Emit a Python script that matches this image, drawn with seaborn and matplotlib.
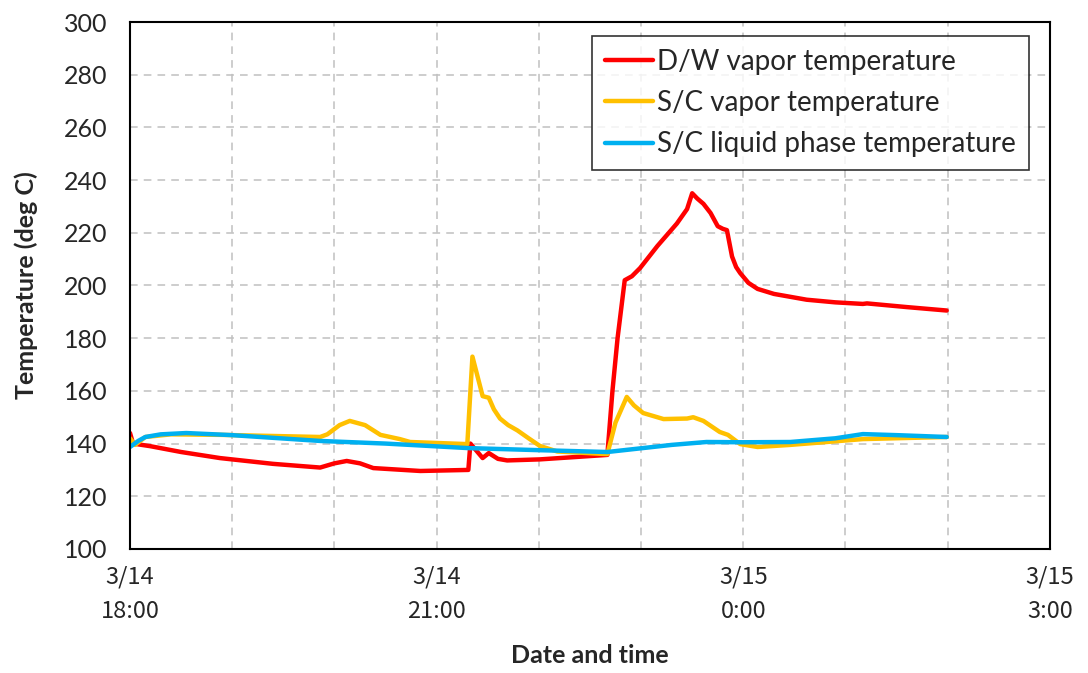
import seaborn as sns
import matplotlib.pyplot as plt
import pandas as pd
import numpy as np

# hours elapsed since 3/14 18:00
dw_hours = [0.0, 0.03, 0.2, 0.5, 0.88, 1.4, 1.86, 2.0, 2.12, 2.25, 2.38, 2.84, 3.31,
            3.33, 3.45, 3.51, 3.6, 3.69, 4.01, 4.67, 4.72, 4.77, 4.84, 4.91, 4.99, 5.16, 5.35,
            5.45, 5.50, 5.55, 5.61, 5.68, 5.75, 5.80, 5.84, 5.89, 5.93, 5.97, 6.05, 6.14,
            6.3, 6.62, 6.9, 7.17, 7.21, 7.6, 7.99]
dw_temp = [144, 140, 139, 136.8, 134.5, 132.3, 130.9, 132.5, 133.4, 132.5, 130.7, 129.6, 130,
           140, 134.5, 136.4, 134.2, 133.6, 134, 135.7, 160, 180, 202, 203.5, 206.6, 215, 223.5,
           229, 235, 233, 231, 227.5, 222.5, 221.5, 221, 211, 207, 204.7, 201, 198.7,
           196.8, 194.6, 193.6, 193, 193.2, 191.8, 190.5]

sc_vap_hours = [0.0, 0.05, 0.15, 0.4, 0.9, 1.86, 1.93, 2.05, 2.15, 2.30, 2.45, 2.64, 2.74, 3.30,
                3.35, 3.45, 3.51, 3.56, 3.62, 3.70, 3.79, 3.90, 4.01, 4.18, 4.67, 4.75, 4.86,
                4.93, 5.02, 5.22, 5.45, 5.51, 5.61, 5.77, 5.85, 5.97, 6.14, 6.46, 7.17, 7.99]
sc_vap_temp = [142, 139.5, 142.5, 143.5, 143.3, 142.5, 143.5, 147, 148.6, 147, 143.3, 141.7, 140.6,
               139.8, 173, 158, 157.4, 153, 149.5, 147, 145, 142, 139.1, 137, 136, 148, 157.7,
               154.5, 151.6, 149.3, 149.5, 150, 148.6, 144.4, 143.3, 139.8, 138.7, 139.5, 141.7,
               142.5]

sc_liq_hours = [0.0, 0.08, 0.15, 0.3, 0.55, 1.0, 1.86, 2.5, 3.30, 4.0, 4.67, 5.02, 5.3,
                5.64, 6.0, 6.46, 6.9, 7.17, 7.5, 7.99]
sc_liq_temp = [138.7, 141, 142.5, 143.5, 144, 143.2, 141, 140, 138.3, 137.5, 136.8, 138.3,
               139.5, 140.6, 140.5, 140.6, 142, 143.6, 143.2, 142.5]

tick_hours = [0, 3, 6, 9]
tick_labels = ["3/14\n18:00", "3/14\n21:00", "3/15\n0:00", "3/15\n3:00"]

series = [("D/W vapor temperature", dw_hours, dw_temp, "#ff0000"),
          ("S/C vapor temperature", sc_vap_hours, sc_vap_temp, "#ffc000"),
          ("S/C liquid phase temperature", sc_liq_hours, sc_liq_temp, "#00b0f0")]

sns.set_style("white")
plt.rcParams['font.family'] = ['Lato', 'DejaVu Sans']

fig = plt.figure(figsize=(10.88, 6.73), dpi=100)
ax = fig.add_axes([0.1195, 0.1843, 0.8455, 0.7830])

for name, hrs, temps, col in series:
    df = pd.DataFrame({"hours": hrs, "temp": temps})
    sns.lineplot(data=df, x="hours", y="temp", ax=ax, color=col, lw=3.2,
                 label=name, sort=False)

ax.set_xlim(0, 9)
ax.set_ylim(100, 300)
ax.set_yticks(np.arange(100, 301, 20))
ax.set_xticks(np.arange(0, 10, 1), minor=True)
ax.set_xticks(tick_hours)
ax.set_xticklabels(tick_labels, family=['Noto Sans CJK JP', 'DejaVu Sans'], fontsize=17,
                   linespacing=1.65)
ax.tick_params(axis='y', labelsize=18, direction='in', length=5, width=1.2, color='#555555',
               pad=16)
ax.tick_params(axis='x', which='both', direction='in', length=5, width=1.5, pad=12)
ax.grid(True, which='both', color='#c0c0c0', linestyle=(0, (5, 4)), lw=1.1)
for s in ax.spines.values():
    s.set_color('black')
    s.set_linewidth(1.5)

ax.set_xlabel("Date and time", fontsize=18, fontweight='bold', labelpad=15)
ax.set_ylabel("Temperature (deg C)", fontsize=18, fontweight='bold', labelpad=19)

leg = ax.legend(loc='upper right', bbox_to_anchor=(0.977, 0.973), fontsize=20,
                frameon=True, fancybox=False, edgecolor='black', handlelength=1.75,
                handletextpad=0.15, borderpad=0.45, labelspacing=0.55, borderaxespad=0)
leg.get_frame().set_linewidth(1.2)

fig.savefig("out.png", dpi=100)
